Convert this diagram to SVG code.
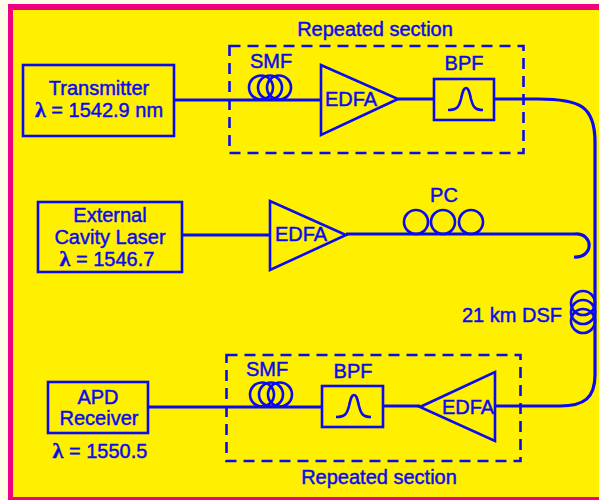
<svg xmlns="http://www.w3.org/2000/svg" width="599" height="500" viewBox="0 0 599 500">
<style>
.l{fill:none;stroke:#0a0af0;stroke-width:3.200}
.n{fill:none;stroke:#0a0af0;stroke-width:2.600}
.d{fill:none;stroke:#0a0af0;stroke-width:2.600;stroke-dasharray:11 7}
text{font-family:"Liberation Sans",Arial,sans-serif;font-size:20px;fill:#0a0af0;stroke:#0a0af0;stroke-width:.45;text-anchor:middle}
.g{font-family:"Liberation Serif",serif;font-weight:bold;font-size:22px}
</style>
<defs>
<path id="bell" d="M0 0C9 0 11 -3 13 -11C15 -20 16 -22 18 -22C20 -22 21 -20 23 -11C25 -3 27 0 35 0"/>
<g id="coil"><ellipse cx="-9" cy="0" rx="12" ry="12"/><ellipse cx="0" cy="0" rx="12" ry="12"/><ellipse cx="9" cy="0" rx="12" ry="12"/></g>
</defs>
<rect width="599" height="500" fill="#fffdea"/>
<rect x="8" y="4" width="591" height="496" fill="#ee0080"/>
<rect x="13" y="10" width="586" height="487" fill="#fff000"/>
<g id="connectors">
<path class="l" d="M174 100H321M398 99H434M494 99H538C580 99 595 106 595 142V375C595 398 584 406 560 406H495"/>
<path class="l" d="M182 235H270M346 234H575C594 233 594 258 574 257"/>
<path class="l" d="M148 407H322M383 406H420"/>
</g>
<g id="repeated-top"><rect class="d" x="229.500" y="46" width="294" height="107"/><text x="375" y="36">Repeated section</text></g>
<g id="repeated-bottom"><rect class="d" x="226.500" y="355" width="294" height="106"/><text x="379" y="484">Repeated section</text></g>
<g id="transmitter"><rect class="n" x="23" y="65" width="151" height="71"/><text x="99" y="95">Transmitter</text><text x="99" y="117"><tspan class="g">λ</tspan> = 1542.9 nm</text></g>
<g id="smf-top"><use href="#coil" class="n" x="270" y="87.500"/><text x="271" y="68">SMF</text></g>
<g id="edfa-top"><path class="n" d="M321 65V135L398 99Z"/><text x="351" y="106">EDFA</text></g>
<g id="bpf-top"><rect class="n" x="434" y="79" width="60" height="41"/><use href="#bell" class="n" x="448" y="110"/><text x="464" y="70">BPF</text></g>
<g id="ecl"><rect class="n" x="38" y="202" width="144" height="70"/><text x="110" y="222">External</text><text x="110" y="244">Cavity Laser</text><text x="107" y="266"><tspan class="g">λ</tspan> = 1546.7</text></g>
<g id="edfa-mid"><path class="n" d="M270 201V270L346 235Z"/><text x="301" y="241">EDFA</text></g>
<g id="pc"><circle class="n" cx="416" cy="222" r="12"/><circle class="n" cx="443" cy="222" r="12"/><circle class="n" cx="471" cy="222" r="12"/><text x="444" y="202">PC</text></g>
<g id="dsf"><use href="#coil" class="n" transform="translate(583 312) rotate(90)"/><text x="512" y="322">21 km DSF</text></g>
<g id="apd"><rect class="n" x="48" y="382" width="100" height="51"/><text x="98" y="404">APD</text><text x="99" y="425">Receiver</text><text x="100" y="458"><tspan class="g">λ</tspan> = 1550.5</text></g>
<g id="smf-bottom"><use href="#coil" class="n" x="271" y="394.500"/><text x="267" y="376">SMF</text></g>
<g id="bpf-bottom"><rect class="n" x="322" y="386" width="61" height="41"/><use href="#bell" class="n" x="336" y="417"/><text x="353" y="378">BPF</text></g>
<g id="edfa-bottom"><path class="n" d="M420 407L495 372V441Z"/><text x="468" y="414">EDFA</text></g>
</svg>
